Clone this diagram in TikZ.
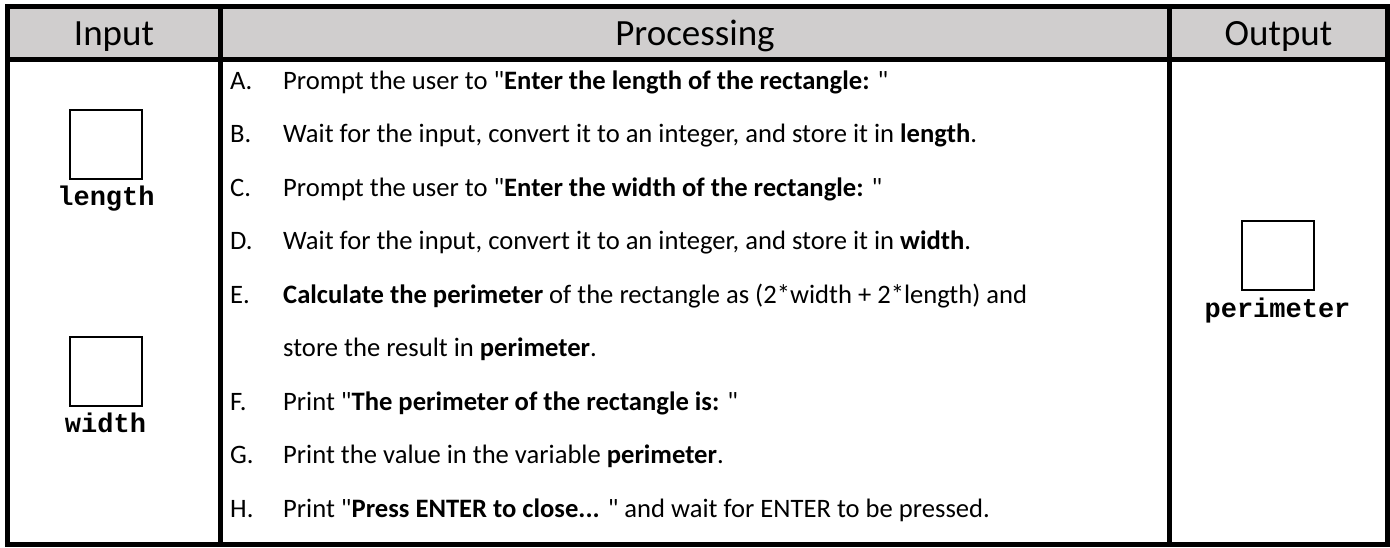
\documentclass[tikz,border=0pt]{standalone}
\usepackage{fontspec}
\setmainfont{Carlito}
\setmonofont{Liberation Mono}
\newfontfamily\qfont{Carlito}
\definecolor{hdrgray}{HTML}{D0CECE}
\newcommand{\dq}{{\qfont\char34\relax}}
\begin{document}
\begin{tikzpicture}[x=1pt,y=-1pt,
  hdr/.style={font=\fontsize{37}{37}\selectfont, anchor=base, inner sep=0},
  letter/.style={font=\fontsize{26.6}{26.6}\selectfont, anchor=base west, inner sep=0},
  item/.style={font=\fontsize{26.6}{26.6}\selectfont, anchor=base west, inner sep=0},
  varbox/.style={draw, line width=2pt, minimum width=72pt, minimum height=69pt, inner sep=0},
  varlbl/.style={font=\ttfamily\bfseries\fontsize{27}{27}\selectfont, anchor=base, inner sep=0},
  rule/.style={line width=5pt}]
\useasboundingbox (0,0) rectangle (1390,547);
% header background
\fill[hdrgray] (7.5,6.5) rectangle (1387.5,59.5);
% grid
\draw[rule] (7.5,6.5) rectangle (1387.5,544.5);
\draw[rule] (7.5,59.5) -- (1387.5,59.5);
\draw[rule] (220.5,6.5) -- (220.5,544.5);
\draw[rule] (1169.5,6.5) -- (1169.5,544.5);
% headers
\node[hdr] (hin) at (114,45) {Input};
\node[hdr] (hproc) at (695,45) {Processing};
\node[hdr] (hout) at (1278.5,45) {Output};
% variables
\node[varbox] (lenbox) at (106,144.5) {};
\node[varlbl] (lenlbl) at (106,205) {length};
\node[varbox] (widbox) at (105.5,371) {};
\node[varlbl] (widlbl) at (105.5,432) {width};
\node[varbox] (perbox) at (1277.5,255.5) {};
\node[varlbl] (perlbl) at (1277.5,317) {perimeter};
% steps
\node[letter] (la) at (230,89) {A.};
\node[item] (ta) at (283,89) {Prompt the user to \dq\textbf{Enter the length of the rectangle:} \dq};
\node[letter] (lb) at (230,142.5) {B.};
\node[item] (tb) at (283,142.5) {Wait for the input, convert it to an integer, and store it in \textbf{length}.};
\node[letter] (lc) at (230,196) {C.};
\node[item] (tc) at (283,196) {Prompt the user to \dq\textbf{Enter the width of the rectangle:} \dq};
\node[letter] (ld) at (230,249.5) {D.};
\node[item] (td) at (283,249.5) {Wait for the input, convert it to an integer, and store it in \textbf{width}.};
\node[letter] (le) at (230,303) {E.};
\node[item] (te) at (283,303) {\textbf{Calculate the perimeter} of the rectangle as (2*width + 2*length) and};
\node[item] (te2) at (283,356.5) {store the result in \textbf{perimeter}.};
\node[letter] (lf) at (230,410) {F.};
\node[item] (tf) at (283,410) {Print \dq\textbf{The perimeter of the rectangle is:} \dq};
\node[letter] (lg) at (230,463.5) {G.};
\node[item] (tg) at (283,463.5) {Print the value in the variable \textbf{perimeter}.};
\node[letter] (lh) at (230,517) {H.};
\node[item] (th) at (283,517) {Print \dq\textbf{Press ENTER to close...} \dq{} and wait for ENTER to be pressed.};
\end{tikzpicture}
\end{document}
